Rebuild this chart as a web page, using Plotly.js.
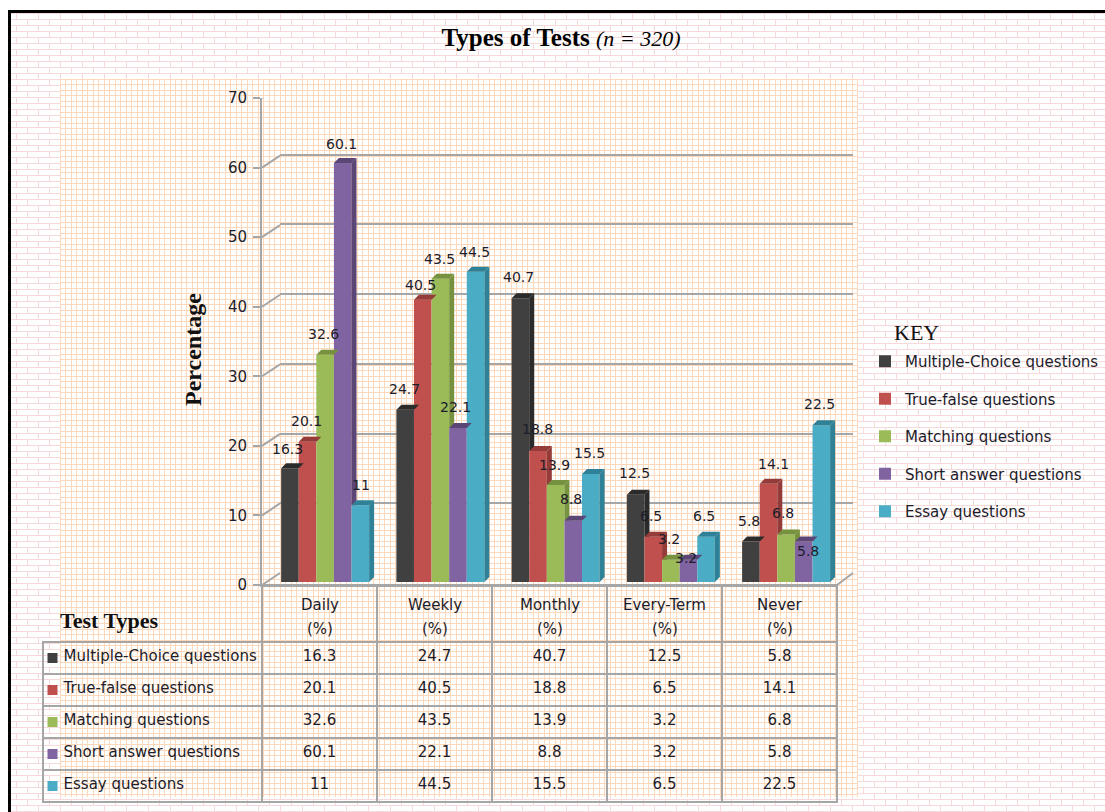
<!DOCTYPE html>
<html>
<head>
<meta charset="utf-8">
<script src="https://cdn.plot.ly/plotly-3.0.1.min.js"></script>
<style>
html,body{margin:0;padding:0;background:#fff;width:1105px;height:812px;overflow:hidden}
#frame{position:absolute;left:8px;top:10px;right:0;bottom:0;border-left:3px solid #000;border-top:3px solid #000;
background-color:#fff;
background-image:url("data:image/svg+xml,%3Csvg xmlns='http://www.w3.org/2000/svg' width='22' height='12'%3E%3Cpath d='M0 .5H22M0 6.5H22M5.5 0V6M16.5 6V12' stroke='%23f6d9da' stroke-width='1' fill='none'/%3E%3C/svg%3E");}
#check{position:absolute;left:60px;top:79px;width:798px;height:718px;
background-color:#fff;
background-image:url("data:image/svg+xml,%3Csvg xmlns='http://www.w3.org/2000/svg' width='11' height='11'%3E%3Cpath d='M0 .5H11M0 5.5H11M.5 0V11M5.5 0V11' stroke='%23fdd8ba' stroke-width='1' fill='none'/%3E%3C/svg%3E");}
#chart{position:absolute;left:0;top:0;width:1105px;height:812px}
</style>
</head>
<body>
<div id="frame"></div><div id="check"></div><div id="chart"></div>
<script>
const W = 1105, H = 812;
const categories = ["Daily", "Weekly", "Monthly", "Every-Term", "Never"];
const seriesNames = ["Multiple-Choice questions", "True-false questions", "Matching questions", "Short answer questions", "Essay questions"];
const multipleChoice = [16.3, 24.7, 40.7, 12.5, 5.8];
const trueFalse = [20.1, 40.5, 18.8, 6.5, 14.1];
const matching = [32.6, 43.5, 13.9, 3.2, 6.8];
const shortAnswer = [60.1, 22.1, 8.8, 3.2, 5.8];
const essay = [11, 44.5, 15.5, 6.5, 22.5];
const allValues = [multipleChoice, trueFalse, matching, shortAnswer, essay];
const yTicks = [0, 10, 20, 30, 40, 50, 60, 70];

const frontColors = ["#404040", "#c0504d", "#9bbb59", "#8064a2", "#4bacc6"];
const darkColors = ["#2b2b2b", "#953c3a", "#77923f", "#5b4675", "#2f8197"];
const labelShiftX = [[-2,-1,-1.5,-1.5,-2],[-1,-2,-1,-2,5],[-2,-1,-1.5,-2,-3],[-1,-2,-2,-2,4],[1,-1,-1,-2,-2]];
const labelShiftY = [[19,21,21,22,21],[21,15,22,21,20],[21,20,20,21,22],[19,21,22,2,-9],[20,20,21,21,21]];

const yPx = p => 1 - p / H, xPx = p => p / W;
const unitX = 115.25, unitY = 6.97;
const depthX = 5 / unitX, depthY = 5 / unitY;
const barFill = 88 / unitX, barW = barFill / 5;
const grey = "#a6a6a6", textCol = "#1c1c2a";
const sans = "DejaVu Sans, sans-serif", serif = "Liberation Serif, serif";

const traces = [];
// back wall subplot carries the gridlines
traces.push({type:"scatter", mode:"none", x:[0,1], y:[0,70], xaxis:"x", yaxis:"y", showlegend:false, hoverinfo:"skip"});
allValues.forEach((vals, j) => {
  traces.push({type:"bar", name:seriesNames[j], x:categories.map((_,i)=>i), y:vals, xaxis:"x3", yaxis:"y3",
    marker:{color:frontColors[j], line:{width:0}}, legendgroup:"g"+j, customdata:categories,
    hovertemplate:"%{customdata}: %{y}<extra>"+seriesNames[j]+"</extra>"});
});
// visible depth faces, derived from the values
allValues.forEach((vals, j) => {
  const sx = [], sy = [], tx = [], ty = [];
  vals.forEach((v, i) => {
    const x1 = i - barFill/2 + barW*(j+1), x0 = x1 - barW;
    const next = j < 4 ? allValues[j+1][i] : 0;
    tx.push(x0, x0+depthX, x1+depthX, x1, x0, null);
    ty.push(v, v+depthY, v+depthY, v, v, null);
    if (next < v) {
      const low = Math.max(next, depthY);
      sx.push(x1, x1+depthX, x1+depthX, x1, x1, null);
      sy.push(v, v+depthY, low, next, v, null);
    } else if (next < v + depthY) {
      const t = (next - v) / depthY;
      sx.push(x1 + t*depthX, x1+depthX, x1+depthX, x1 + t*depthX, null);
      sy.push(next, v+depthY, next, next, null);
    }
  });
  [[sx,sy],[tx,ty]].forEach(([a,b]) => traces.push({type:"scatter", mode:"lines", x:a, y:b, xaxis:"x3", yaxis:"y3",
    fill:"toself", fillcolor:darkColors[j], line:{width:0, color:darkColors[j]}, showlegend:false, hoverinfo:"skip", cliponaxis:false}));
});

// data table
const firstCol = seriesNames.map(n => ("\u00A0\u00A0\u2009" + n).replace(/ /g, "\u00A0"));
const columnsVals = [firstCol].concat(categories.map((_,i) => allValues.map(s => String(s[i]))));
traces.push({type:"table", domain:{x:[xPx(43), xPx(837)], y:[yPx(805), yPx(585)]},
  columnwidth:[219,115,115,115,115,115],
  header:{values:["","","","","",""], height:57, align:"center",
    fill:{color:"rgba(0,0,0,0)"}, line:{color:["rgba(0,0,0,0)",grey,grey,grey,grey,grey], width:1.5},
    font:{family:sans, size:15, color:textCol}},
  cells:{values:columnsVals, height:32, align:["left","center","center","center","center","center"],
    fill:{color:"rgba(0,0,0,0)"}, line:{color:grey, width:1.5},
    font:{family:sans, size:15, color:textCol}}
});
// key squares in the table's first column
traces.push({type:"scatter", mode:"markers", x:seriesNames.map(()=>0), y:seriesNames.map((_,j)=>j+0.5), xaxis:"x4", yaxis:"y4",
  marker:{symbol:"square", size:10, color:frontColors, line:{width:0}}, showlegend:false, hoverinfo:"skip"});

const annotations = [];
allValues.forEach((vals, j) => vals.forEach((v, i) => annotations.push({
  xref:"x3", yref:"y3", x:i - barFill/2 + barW*(j+0.5), y:v, text:String(v), showarrow:false,
  xshift:labelShiftX[j][i], yshift:labelShiftY[j][i], font:{family:sans, size:14, color:textCol}, xanchor:"center", yanchor:"middle"})));
categories.forEach((c, i) => {
  annotations.push({xref:"x2", yref:"paper", x:i+0.5, y:yPx(605), text:c, showarrow:false, font:{family:sans, size:15, color:textCol}, xanchor:"center", yanchor:"middle"});
  annotations.push({xref:"x2", yref:"paper", x:i+0.5, y:yPx(629), text:"(%)", showarrow:false, font:{family:sans, size:15, color:textCol}, xanchor:"center", yanchor:"middle"});
});
annotations.push({xref:"paper", yref:"paper", x:xPx(892), y:yPx(332), text:"KEY", showarrow:false, xanchor:"left", yanchor:"middle",
  font:{family:serif, size:22, color:"#111"}});
annotations.push({xref:"paper", yref:"paper", x:xPx(58), y:yPx(620), text:"<b>Test Types</b>", showarrow:false, xanchor:"left", yanchor:"middle",
  font:{family:serif, size:22, color:"#111"}});
annotations.push({xref:"paper", yref:"paper", x:xPx(193), y:yPx(350), text:"<b>Percentage</b>", showarrow:false, textangle:-90, xanchor:"center", yanchor:"middle",
  font:{family:serif, size:24, color:"#111"}});

const wallDepth = 12 / unitY;
const shapes = yTicks.map(t => ({type:"line", layer:"below", xref:"paper", yref:"y2", x0:xPx(262), x1:xPx(280), y0:t, y1:t + wallDepth, line:{color:grey, width:2}}));
shapes.push({type:"line", layer:"below", xref:"paper", yref:"y2", x0:xPx(837), x1:xPx(853), y0:0, y1:wallDepth, line:{color:grey, width:2}});

const layout = {
  width:W, height:H, paper_bgcolor:"rgba(0,0,0,0)", plot_bgcolor:"rgba(0,0,0,0)",
  margin:{l:0, r:0, t:0, b:0, autoexpand:false},
  title:{text:'<b>Types of Tests</b> <i><span style="font-size:22px">(n = 320)</span></i>', x:561/W, xanchor:"center", y:yPx(37), yanchor:"middle",
    font:{family:serif, size:25, color:"#000"}},
  barmode:"group", bargap:1 - barFill, bargroupgap:0,
  xaxis:{domain:[xPx(280), xPx(853)], range:[0,1], showticklabels:false, ticks:"", showgrid:false, zeroline:false, showline:false, anchor:"y"},
  yaxis:{domain:[yPx(573), yPx(85)], range:[0,70], tickvals:yTicks, showticklabels:false, ticks:"", showgrid:true, gridcolor:grey, gridwidth:2, zeroline:false, showline:false, anchor:"x"},
  xaxis2:{domain:[xPx(262), xPx(837)], range:[0,5], showticklabels:false, ticks:"", showgrid:false, zeroline:false, showline:true, linecolor:grey, linewidth:2, anchor:"y2"},
  yaxis2:{domain:[yPx(585), yPx(98)], range:[0,70], tickvals:yTicks, ticks:"outside", ticklen:7, tickwidth:2, tickcolor:grey, showgrid:false, zeroline:false,
    showline:true, linecolor:grey, linewidth:2, anchor:"x2", ticklabelstandoff:3, tickfont:{family:sans, size:15, color:textCol}},
  xaxis3:{domain:[xPx(267.5), xPx(843.75)], range:[-0.5,4.5], visible:false, anchor:"y3"},
  yaxis3:{domain:[yPx(582), yPx(94)], range:[0,70], visible:false, anchor:"x3"},
  xaxis4:{domain:[xPx(43), xPx(62)], range:[-1,1], visible:false, anchor:"y4"},
  yaxis4:{domain:[yPx(802), yPx(642)], range:[5,0], visible:false, anchor:"x4"},
  showlegend:true,
  legend:{x:xPx(865), y:yPx(345), xanchor:"left", yanchor:"top", orientation:"v", traceorder:"grouped", tracegroupgap:15,
    bgcolor:"rgba(0,0,0,0)", font:{family:sans, size:15, color:textCol}},
  annotations, shapes
};
Plotly.newPlot("chart", traces, layout, {displayModeBar:false});
</script>
</body>
</html>
